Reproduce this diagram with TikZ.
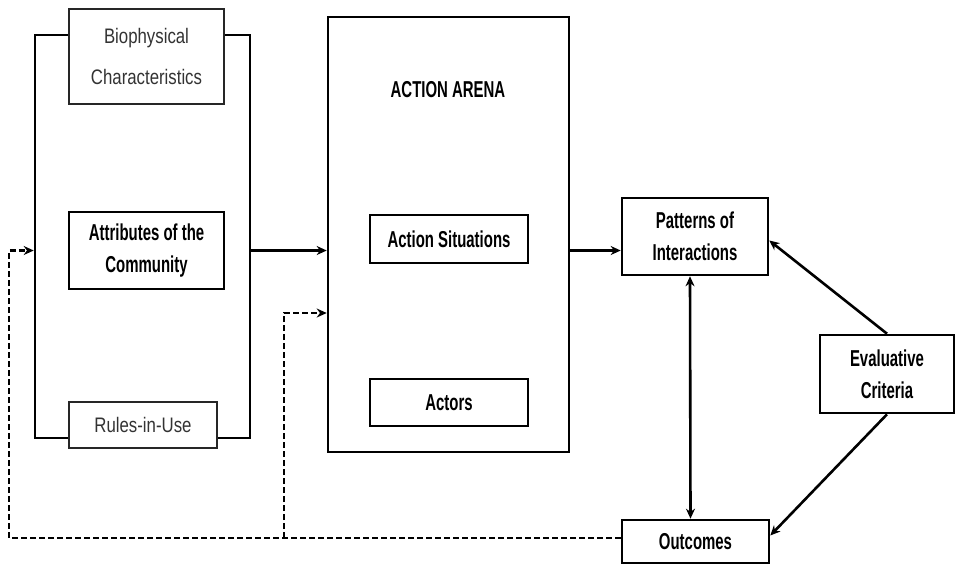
\documentclass[tikz,border=0pt]{standalone}
\usepackage{fontspec}
\setmainfont{Liberation Sans}[FakeStretch=0.65]
\newfontfamily\plainfont{Liberation Sans}[FakeStretch=0.8]
\usetikzlibrary{arrows.meta}

\tikzset{
  box/.style={draw, line width=2.6pt, fill=white, inner sep=0pt,
    align=center, font=\fontsize{23}{32}\selectfont\bfseries},
  thinbox/.style={draw=black!85, line width=1.2pt, fill=white, inner sep=0pt,
    align=center, text=black!80, font=\fontsize{21}{41}\selectfont\plainfont},
  frame/.style={draw, line width=2.6pt, inner sep=0pt},
  arr/.style={line width=2.6pt, -{Stealth[length=10pt,width=9pt]}},
  fb/.style={line width=2.6pt, dash pattern=on 6pt off 3pt, -{Stealth[length=10pt,width=9pt]}}
}

\begin{document}
\begin{tikzpicture}[x=1pt,y=-1pt]
    \useasboundingbox (0,0) rectangle (959,566);

    % left group
    \node[frame, minimum width=215pt, minimum height=403pt] (group) at (142.5,236.5) {};
    \node[thinbox, minimum width=155pt, minimum height=95pt] (bio) at (146.5,56.5)
      {Biophysical\\Characteristics};
    \node[box, minimum width=155pt, minimum height=77pt] (attr) at (146.5,250.5)
      {Attributes of the\\Community};
    \node[thinbox, minimum width=148pt, minimum height=46pt] (rules) at (143,425)
      {Rules-in-Use};

    % action arena
    \node[frame, minimum width=241pt, minimum height=435pt] (arena) at (448.5,234.5) {};
    \node[font=\fontsize{23}{32}\selectfont\bfseries] (title) at (448,90) {ACTION ARENA};
    \node[box, minimum width=158pt, minimum height=48pt] (sit) at (449,239) {Action Situations};
    \node[box, minimum width=158pt, minimum height=47pt] (actors) at (449,402.5) {Actors};

    % right side
    \node[box, minimum width=146pt, minimum height=77pt] (patterns) at (695,236.5)
      {Patterns of\\Interactions};
    \node[box, minimum width=134pt, minimum height=78pt] (evalc) at (887,374)
      {Evaluative\\Criteria};
    \node[box, minimum width=147pt, minimum height=43pt] (outcomes) at (695.5,541.5) {Outcomes};

    % connectors
    \draw[arr] (attr.east -| group.east) -- (attr.east -| arena.west);
    \draw[arr] (attr.east -| arena.east) -- (attr.east -| patterns.west);
    \draw[line width=2.6pt, {Stealth[length=10pt,width=9pt]}-{Stealth[length=10pt,width=9pt]}]
      ([xshift=-5pt]patterns.south) -- ([xshift=-5pt]outcomes.north);
    \draw[arr] (evalc.north) -- ([yshift=-4pt]patterns.east);
    \draw[arr] (evalc.south) -- ([yshift=6pt]outcomes.east);

    % feedback
    \coordinate (loopL) at (9,538);
    \coordinate (loopM) at (284,538);
    \draw[fb] ([yshift=3.5pt]outcomes.west) -- (loopL) |- (attr.west -| group.west);
    \draw[fb] (loopM) |- ([yshift=-78.5pt]arena.west);
\end{tikzpicture}
\end{document}
